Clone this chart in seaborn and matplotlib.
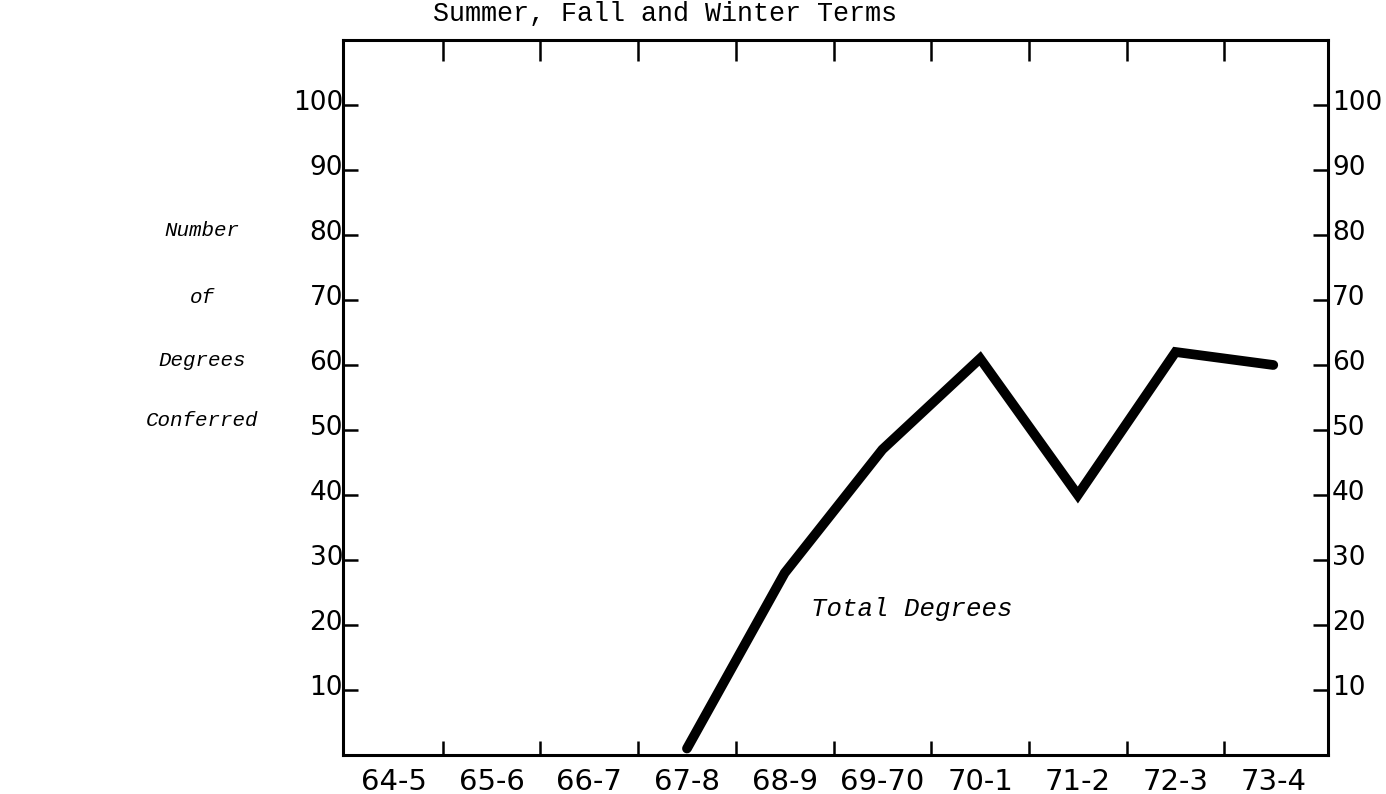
import numpy as np
import pandas as pd
import matplotlib
matplotlib.use("Agg")
import matplotlib.pyplot as plt
import matplotlib.transforms as mtransforms
import seaborn as sns

# ---- data ----
categories = ["64-5", "65-6", "66-7", "67-8", "68-9", "69-70", "70-1", "71-2", "72-3", "73-4"]
total_degrees = [np.nan, np.nan, np.nan, 1, 28, 47, 61, 40, 62, 60]
y_ticks = [10, 20, 30, 40, 50, 60, 70, 80, 90, 100]
title_text = "Summer, Fall and Winter Terms"
side_label = ["Number", "of", "Degrees", "Conferred"]
series_label = "Total Degrees"

sns.set_theme(style="white")
plt.rcParams["font.family"] = ["DejaVu Sans"]
plt.rcParams["text.color"] = "black"
plt.rcParams["xtick.color"] = "black"
plt.rcParams["ytick.color"] = "black"
plt.rcParams["xtick.labelcolor"] = "black"
plt.rcParams["ytick.labelcolor"] = "black"

df = pd.DataFrame({"pos": np.arange(len(categories)), "value": total_degrees})

fig = plt.figure(figsize=(13.86, 7.94), dpi=100)
ax = fig.add_axes([343 / 1386, 1 - 755 / 794, (1328 - 343) / 1386, (755 - 40) / 794])

sns.lineplot(data=df, x="pos", y="value", ax=ax, color="black", linewidth=7,
             solid_capstyle="round", solid_joinstyle="miter")

ax.set_xlim(-0.52, len(categories) - 0.44)
ax.set_ylim(0, 110)
ax.set_xlabel("")
ax.set_ylabel("")

for s in ax.spines.values():
    s.set_visible(True)
    s.set_color("black")
    s.set_linewidth(2.2)

# x: labels at category centres, marks between categories
ax.set_xticks(np.arange(len(categories)))
ax.set_xticklabels(categories)
ax.set_xticks(np.arange(len(categories) - 1) + 0.5, minor=True)
ax.tick_params(axis="x", which="major", length=0, pad=9, labelsize=21, labelcolor="black")
ax.tick_params(axis="x", which="minor", direction="in", length=10, width=1.8,
               bottom=True, top=False, color="black")

# left y axis
ax.set_yticks(y_ticks)
ax.set_yticklabels([str(v) for v in y_ticks])
ax.tick_params(axis="y", which="major", direction="in", length=11, width=1.8,
               left=True, pad=0, color="black", labelsize=19, labelcolor="black")
ax.yaxis.set_minor_locator(matplotlib.ticker.NullLocator())
off = mtransforms.ScaledTranslation(0, 5 / 100, fig.dpi_scale_trans)
for lab in ax.get_yticklabels():
    lab.set_transform(lab.get_transform() + off)

# right y axis
sec = ax.secondary_yaxis("right")
sec.set_yticks(y_ticks)
sec.set_yticklabels([str(v) for v in y_ticks])
sec.tick_params(axis="y", direction="in", length=11, width=1.8, pad=3, color="black",
                labelsize=19, labelcolor="black")
sec.spines["right"].set_visible(False)
for lab in sec.get_yticklabels():
    lab.set_transform(lab.get_transform() + off)

# top tick marks
top = ax.secondary_xaxis("top")
top.set_xticks(np.arange(len(categories) - 1) + 0.5)
top.set_xticklabels([])
top.tick_params(axis="x", direction="in", length=15, width=1.8, color="black")
top.spines["top"].set_visible(False)

ax.grid(False)

# series label
ax.text(5.3, 22.5, series_label, family="Liberation Mono", style="italic",
        fontsize=18.5, ha="center", va="center", color="black")

# title
fig.text(665 / 1386, 1 - 14 / 794, title_text, family="Liberation Mono",
         fontsize=19.3, ha="center", va="center", color="black")

# side label
side_y = [231, 297, 360, 421]
for txt, yy in zip(side_label, side_y):
    fig.text(202 / 1386, 1 - yy / 794, txt, family="Liberation Mono", style="italic",
             fontsize=15, ha="center", va="center", color="black")

fig.savefig("out.png", dpi=100, facecolor="white")
